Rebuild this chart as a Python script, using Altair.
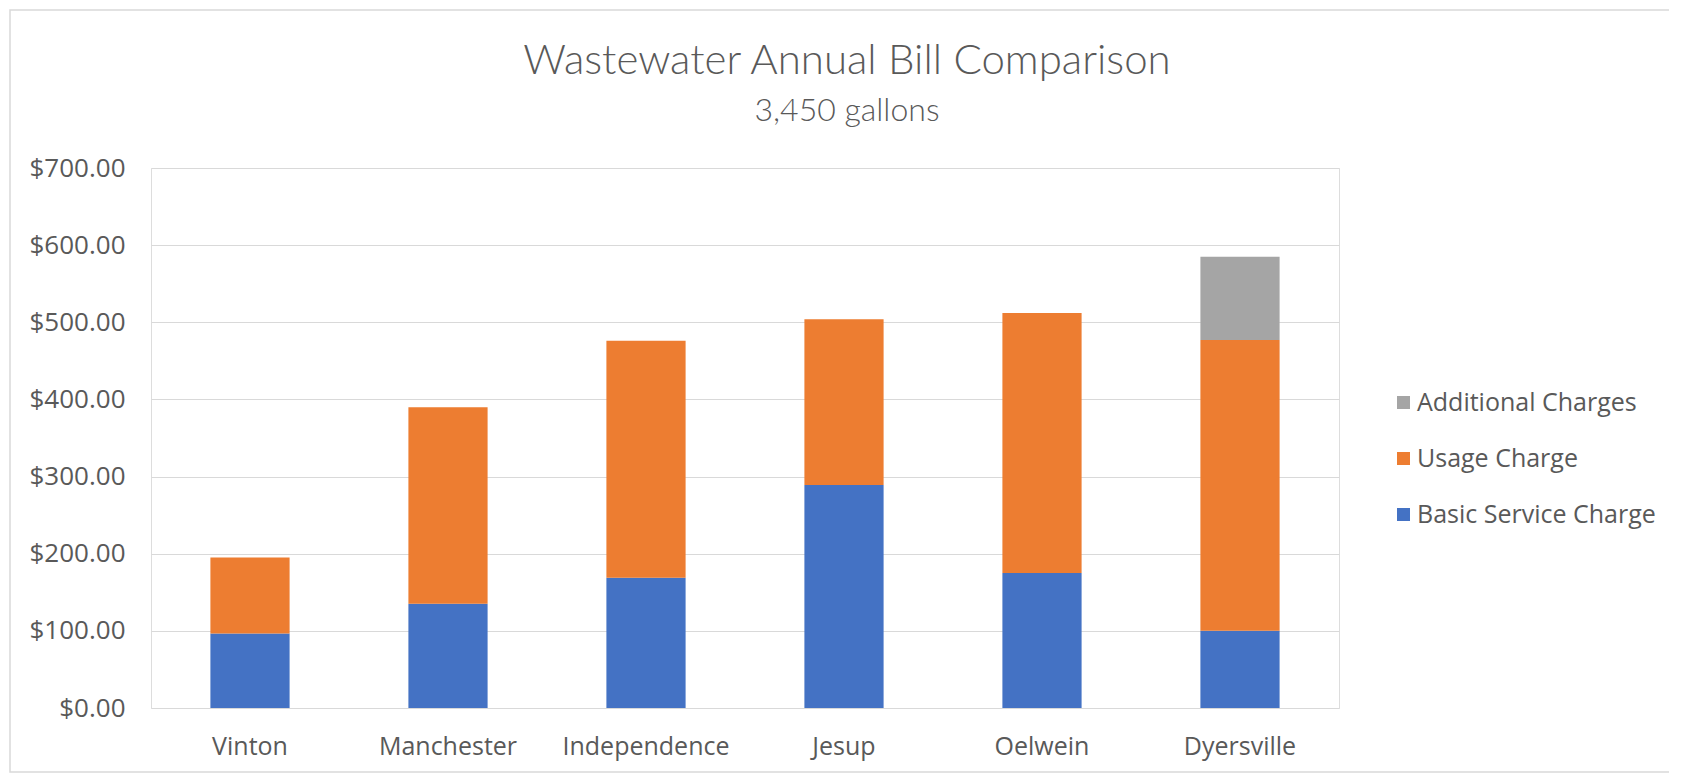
import altair as alt
import pandas as pd

cities = ["Vinton", "Manchester", "Independence", "Jesup", "Oelwein", "Dyersville"]
basic_service = [96.5, 135, 169, 289, 175, 100]
usage_charge = [98.5, 255, 307, 215, 337, 377]
additional_charges = [0, 0, 0, 0, 0, 108]

series_names = ["Basic Service Charge", "Usage Charge", "Additional Charges"]
legend_order = ["Additional Charges", "Usage Charge", "Basic Service Charge"]
legend_colors = ["#A5A5A5", "#ED7D31", "#4472C4"]
y_ticks = [0, 100, 200, 300, 400, 500, 600, 700]

title_text = "Wastewater Annual Bill Comparison"
subtitle_text = "3,450 gallons"

rows = []
for i, c in enumerate(cities):
    for k, (name, vals) in enumerate(zip(series_names, [basic_service, usage_charge, additional_charges])):
        if vals[i] > 0:
            rows.append({"City": c, "Series": name, "Amount": vals[i], "Order": k})
df = pd.DataFrame(rows)

FONT = "Open Sans"
GRAY = "#595959"

bars = alt.Chart(df).mark_bar().encode(
    x=alt.X("City:N", sort=cities,
            scale=alt.Scale(paddingInner=0.6, paddingOuter=0.3),
            axis=alt.Axis(title=None, labelAngle=0, domain=False, ticks=False, grid=False,
                          labelPadding=26, labelFont=FONT, labelFontSize=25, labelColor=GRAY)),
    y=alt.Y("Amount:Q", stack="zero",
            scale=alt.Scale(domain=[0, 700], nice=False),
            axis=alt.Axis(title=None, values=y_ticks, format="$,.2f", domain=False, ticks=False,
                          grid=True, gridColor="#D9D9D9", gridWidth=1,
                          labelPadding=26, labelFont=FONT, labelFontSize=26, labelColor=GRAY)),
    color=alt.Color("Series:N",
                    scale=alt.Scale(domain=legend_order, range=legend_colors),
                    legend=alt.Legend(title=None, orient="none", legendX=1240, legendY=222,
                                      symbolType="square", symbolSize=170, symbolStrokeWidth=0,
                                      labelFont=FONT, labelFontSize=25, labelColor=GRAY,
                                      labelLimit=0, rowPadding=30, labelOffset=1)),
    order=alt.Order("Order:Q", sort="ascending"),
)

title = alt.Chart(pd.DataFrame({"t": [title_text]})).mark_text(
    font="Lato", fontSize=42, fontWeight=300, color=GRAY, align="center", baseline="alphabetic"
).encode(text="t:N", x=alt.value(696), y=alt.value(-94))

subtitle = alt.Chart(pd.DataFrame({"t": [subtitle_text]})).mark_text(
    font="Lato", fontSize=32, fontWeight=300, color=GRAY, align="center", baseline="alphabetic"
).encode(text="t:N", x=alt.value(696), y=alt.value(-47))

frame = alt.Chart(pd.DataFrame({"f": [0]})).mark_rect(
    fill=None, stroke="#D9D9D9", strokeWidth=1.5
).encode(
    x=alt.value(-141), x2=alt.value(1529), y=alt.value(-158), y2=alt.value(604)
)

chart = alt.layer(frame, bars, title, subtitle).properties(
    width=1188,
    height=540,
    autosize=alt.AutoSizeParams(type="none"),
    padding={"left": 143, "top": 160, "right": 330, "bottom": 65},
).configure_view(stroke=None).configure(background="white")

chart.save("out.html", embed_options={"renderer": "svg", "actions": False})
